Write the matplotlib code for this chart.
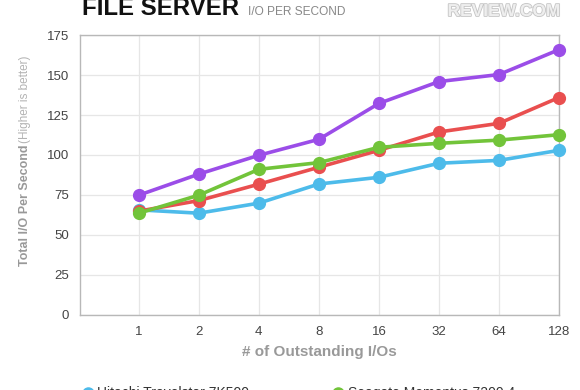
import matplotlib
matplotlib.use("Agg")
import matplotlib.pyplot as plt
from matplotlib.lines import Line2D
import matplotlib.patheffects as pe

categories = ["1", "2", "4", "8", "16", "32", "64", "128"]
hitachi = [65.6, 63.5, 69.8, 81.8, 86.0, 94.8, 96.6, 102.9]
red_series = [64.8, 71.4, 81.7, 92.3, 102.9, 114.4, 119.8, 136.0]
seagate = [63.5, 74.8, 91.0, 95.2, 104.8, 107.3, 109.3, 112.7]
purple_series = [74.8, 88.0, 99.8, 109.8, 132.3, 146.0, 150.4, 166.0]
yticks = [0, 25, 50, 75, 100, 125, 150, 175]

colors = {"blue": "#4dbbea", "red": "#e94f4f", "green": "#72c43a", "purple": "#9b4de8"}

plt.rcParams['font.family'] = ['Liberation Sans', 'DejaVu Sans']

fig = plt.figure(figsize=(5.8, 3.9), dpi=100)
ax = fig.add_axes([80/580, 1-314.5/390, (559-80)/580, (314.5-35.3)/390])

x = list(range(len(categories)))
for series, c in [(hitachi, colors["blue"]), (red_series, colors["red"]),
                  (seagate, colors["green"]), (purple_series, colors["purple"])]:
    ax.plot(x, series, color=c, lw=2.6, marker='o', ms=8.5, zorder=3, clip_on=False)

ax.set_xlim(-0.98, 7)
ax.set_ylim(0, 175)
ax.set_xticks(x)
ax.set_xticklabels(categories)
ax.set_yticks(yticks)
ax.grid(True, color="#e6e6e6", lw=0.9, zorder=0)
for s in ax.spines.values():
    s.set_color("#b8b8b8")
    s.set_linewidth(1.0)
ax.tick_params(axis='both', length=0, colors="#444444", labelsize=9.5)
ax.tick_params(axis='x', pad=8)
ax.tick_params(axis='y', pad=8)

ax.set_xlabel("# of Outstanding I/Os", color="#999999", fontsize=11, fontweight='bold', labelpad=5)

fig.text(25/580, 1-205/390, "Total I/O Per Second", rotation=90, color="#999999",
         fontsize=9, fontweight='bold', ha='center', va='center')
fig.text(25/580, 1-99/390, "(Higher is better)", rotation=90, color="#b3b3b3",
         fontsize=8.5, ha='center', va='center')

fig.text(82/580, 1-15/390, "FILE SERVER", fontsize=17.3, fontweight='bold', color="#111111",
         ha='left', va='baseline')
fig.text(248/580, 1-15/390, "I/O PER SECOND", fontsize=8.6, color="#888888",
         ha='left', va='baseline')
fig.text(560/580, 1-16/390, "REVIEW.COM", fontsize=12.5, fontweight='bold', color="#eeeeee",
         ha='right', va='baseline',
         path_effects=[pe.withStroke(linewidth=1.2, foreground="#c4c4c4")])

# legend (partially cut off at bottom)
ly = 1 - 393/390
fig.add_artist(Line2D([88/580], [ly], marker='o', ms=8, color=colors["blue"],
                      transform=fig.transFigure, clip_on=False))
fig.text(97/580, ly, "Hitachi Travelstar 7K500", fontsize=10, color="#333333",
         ha='left', va='center')
fig.add_artist(Line2D([338/580], [ly], marker='o', ms=8, color=colors["green"],
                      transform=fig.transFigure, clip_on=False))
fig.text(348/580, ly, "Seagate Momentus 7200.4", fontsize=10, color="#333333",
         ha='left', va='center')

fig.savefig("out.png", dpi=100)
